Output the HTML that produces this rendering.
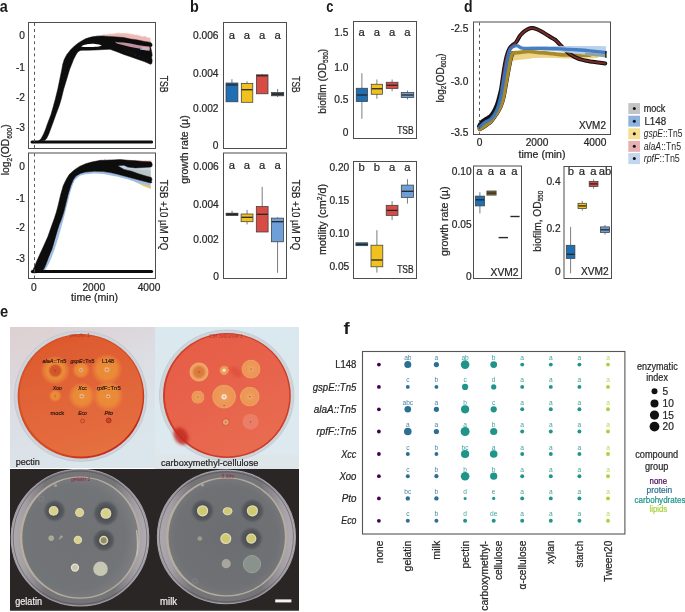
<!DOCTYPE html>
<html><head><meta charset="utf-8"><style>
html,body{margin:0;padding:0;background:#fff;width:685px;height:612px;overflow:hidden}
svg{display:block;will-change:transform}
text{font-family:"Liberation Sans", sans-serif}
</style></head><body>
<svg width="685" height="612" viewBox="0 0 685 612">
<rect width="685" height="612" fill="#fff"/>
<text x="-0.3" y="11.6" font-size="16.5" text-anchor="start" fill="#1a1a1a" font-weight="bold" textLength="8" lengthAdjust="spacingAndGlyphs" >a</text>
<text x="190" y="11.7" font-size="16.5" text-anchor="start" fill="#1a1a1a" font-weight="bold" textLength="8.8" lengthAdjust="spacingAndGlyphs" >b</text>
<text x="326.2" y="11.6" font-size="16.5" text-anchor="start" fill="#1a1a1a" font-weight="bold" textLength="7.2" lengthAdjust="spacingAndGlyphs" >c</text>
<text x="464" y="11.6" font-size="16.5" text-anchor="start" fill="#1a1a1a" font-weight="bold" textLength="8.6" lengthAdjust="spacingAndGlyphs" >d</text>
<text x="0.1" y="316.7" font-size="16.5" text-anchor="start" fill="#1a1a1a" font-weight="bold" textLength="8.2" lengthAdjust="spacingAndGlyphs" >e</text>
<text x="343.4" y="333.8" font-size="16.5" text-anchor="start" fill="#1a1a1a" font-weight="bold" textLength="6.2" lengthAdjust="spacingAndGlyphs" >f</text>
<path d="M100,36.07 L100.5,34.99 L101.1,35.8 L101.6,34.56 L102.2,35.62 L102.7,34.9 L103.3,34.84 L103.8,33.54 L104.4,34.75 L104.9,34.07 L105.5,35.2 L106,33.69 L106.6,35.01 L107.1,33.61 L107.7,34.8 L108.2,33.96 L108.8,34.72 L109.3,32.95 L109.9,34.57 L110.4,33.04 L111,34.55 L111.5,33.8 L112.1,34.49 L112.6,32.99 L113.2,34.04 L113.7,33.59 L114.3,34.31 L114.8,32.89 L115.4,34.08 L115.9,32.23 L116.5,33.95 L117,32.05 L117.6,33.65 L118.1,32.13 L118.7,33.65 L119.2,31.92 L119.8,33.91 L120.3,32.97 L120.9,33.35 L121.4,32.77 L122,33.89 L122.5,32.45 L123.1,33.72 L123.6,32.69 L124.2,33.75 L124.7,32.7 L125.3,33.76 L125.8,32.56 L126.4,34.05 L126.9,32.26 L127.5,34.24 L128,32.35 L128.6,34.48 L129.1,32.39 L129.7,34.47 L130.2,33.59 L130.8,34.74 L131.3,32.68 L131.9,34.98 L132.4,33.41 L133,35.05 L133.5,34.08 L134.1,35.34 L134.6,33.81 L135.2,35.17 L135.7,34.68 L136.3,35.77 L136.8,33.69 L137.4,35.44 L137.9,34.14 L138.5,35.88 L139,35.2 L139.6,36.01 L140.1,34.6 L140.7,36.62 L141.2,35.75 L141.8,36.65 L142.3,35.96 L142.9,36.94 L143.4,35.8 L144,37.26 L144.5,35.17 L145.1,37.24 L145.6,35.39 L146.2,37.37 L146.7,36.85 L147.3,37.83 L147.8,37.17 L148.4,37.81 L148.9,36.94 L149.5,38.36 L150,37.53 L150.5,38.5 L150.5,44 L140,42 L125,40 L110,38 L100,37.5 Z" fill="#eeb8b4" stroke="none" stroke-width="1" />
<path d="M88,38 L93,36.3 L99,35.5 L103,35.6 L100,37 L92,38.6 Z" fill="#9ec0e6" stroke="none" stroke-width="1" />
<path d="M32.5,142.6 L36,142 L39,140.8 L41.2,138.5 L43.5,134.2 L45.5,129.5 L47.2,124.6 L51,114.6 L53.3,106.5 L55.4,98.8 L57.8,89 L59.8,79.2 L61.8,69.4 L62.7,64.5 L64.2,59.6 L66.7,54.7 L70.6,49.8 L74.5,45.9 L78.4,42.9 L82.4,40.5 L86,38.6 L91.4,37 L97,36.2 L102.8,36.1 L108,36.4 L113,36.7 L116.9,36.9 L123.7,37.6 L130.6,39 L137.5,40 L144.3,41.4 L150.5,42.4 L151.8,43.5 L152.2,45.5 L151.5,46.6 L150.5,46.8 L151.5,51 L152.2,55 L151.6,57.5 L152.2,60.5 L151.8,63.5 L150.5,64.3 L144.3,61.6 L137.5,59.2 L130.6,56.8 L123.7,54.4 L116.9,51.7 L110,49.3 L105,49.4 L100,49.8 L95,50 L88,50.2 L82.4,50.3 L80.4,50.4 L77.9,51.8 L76,54.7 L73.5,59.6 L71.6,64.5 L69.6,69.4 L66.7,79.2 L63.7,89 L61.3,98.8 L59.3,105.5 L55.9,114.6 L52.3,124.5 L48.7,134.2 L46.6,138.5 L44.5,140.6 L40,141 L34,142.8 Z" fill="#0d0d0d" stroke="#0d0d0d" stroke-width="0.5" stroke-linejoin="round"/>
<path d="M81.2,46.6 C83.5,44.4 90,43.7 95,43.9 C98,44 100.5,44.6 101.8,45.5 C99,47 92,47.1 88,47.1 C85,47.1 82.5,47 81.2,46.6 Z" fill="#fff" stroke="none" stroke-width="1" />
<path d="M114.8,41.6 L117,42.2 L123.7,42.5 L130.6,43.5 L137.5,44.9 L144.3,45.9 L149.5,46.6 L149.5,50.6 L144.3,49.3 L137.5,48.2 L130.6,46.9 L123.7,45.2 L116.9,43.5 Z" fill="#c18f9f" stroke="none" stroke-width="1" />
<path d="M141,46.5 L149.5,47.2 L149.5,50.8 L142,49.6 Z" fill="#d9a9b4" stroke="none" stroke-width="1" />
<path d="M140,48.4 L147,49.6 L147,50.6 L140,49.4 Z" fill="#9fbfe3" stroke="none" stroke-width="1" />
<line x1="124" y1="49.8" x2="134" y2="53.2" stroke="#283845" stroke-width="0.5" stroke-dasharray="2,2.5" opacity="0.7"/>
<line x1="134" y1="54.8" x2="148" y2="59.3" stroke="#283845" stroke-width="0.5" stroke-dasharray="2,2.5" opacity="0.7"/>
<line x1="126" y1="51.6" x2="140" y2="56.2" stroke="#283845" stroke-width="0.5" stroke-dasharray="2,2.5" opacity="0.7"/>
<line x1="32" y1="142" x2="151.6" y2="142" stroke="#0d0d0d" stroke-width="3" stroke-linecap="round"/>
<path d="M117.9,166 L124,164.9 L127.8,167.1 L135.4,167.9 L143,167.5 L150.6,167.1 L150.8,178 L146.8,176.3 L139.2,174 L131.6,171.3 L124,169.4 Z" fill="#c3d2e6" stroke="none" stroke-width="1" />
<path d="M124,168.5 L135.4,169.5 L150.6,170.5 L150.8,178 L146.8,176.3 L139.2,174 L131.6,171.3 Z" fill="#b9c5c4" stroke="none" stroke-width="1" />
<path d="M127.8,177 L139.2,180.1 L150.6,182.7 L150.6,188.6 L144,186 L135,182 L128,179 Z" fill="#b6c2c0" stroke="none" stroke-width="1" />
<path d="M140,183.8 L150.6,186 L150.6,188.8 L142,185.6 Z" fill="#e6ca6a" stroke="none" stroke-width="1" />
<path d="M104,159.83 L104.5,158.56 L105.2,160.01 L105.7,158.47 L106.4,160.39 L106.9,159.19 L107.6,160.15 L108.1,159.05 L108.8,160.28 L109.3,158.98 L110,160.26 L110.5,158.98 L111.2,160.51 L111.7,159.14 L112.4,160.23 L112.9,158.9 L113.6,160.13 L114.1,159.43 L114.8,160.6 L115.3,159.19 L116,160.37 L116.5,159.83 L117.2,160.31 L117.7,159.17 L118.4,160.1 L118.9,159.15 L119.6,160.49 L120.1,159.84 L120.8,160.51 L121.3,159.38 L122,160.57 L122.5,159.54 L123.2,160.61 L123.7,159.1 L124.4,160.22 L124.9,159.94 L125.6,160.64 L126.1,158.88 L126.8,160.41 L127.3,159.51 L128,160.64 L128.5,159.7 L129.2,160.52 L129.7,159.73 L130.4,160.55 L130.9,159.41 L131.6,160.53 L132.1,159.7 L132.8,160.84 L133.3,160.14 L134,160.74 L134.5,159.32 L135.2,160.61 L135.7,159.96 L136.4,160.93 L136.9,159.96 L137.6,160.58 L138.1,159.75 L138.8,160.91 L139.3,160.17 L140,160.71 L140.5,159.92 L141.2,161.04 L141.7,159.82 L142.4,161.08 L142.9,160.16 L143.6,160.79 L144.1,159.61 L144.8,161.15 L145.3,159.87 L146,160.78 L146.5,160.29 L147.2,160.98 L147.7,160.24 L148.4,161.17 L148.9,159.48 L149.6,160.82 L150.1,160.18 L150.8,161.22 L151.3,159.77 L151.5,160 L151.5,165 L120,163 L104,163 Z" fill="#efc0bc" stroke="none" stroke-width="1" />
<path d="M37,266 C37.67,264.5 39.67,260 41,257 C42.33,254 43.67,251.17 45,248 C46.33,244.83 47.67,241.5 49,238 C50.33,234.5 51.67,231 53,227 C54.33,223 56.33,216.17 57,214" fill="none" stroke="#b4cdee" stroke-width="1.6" stroke-linecap="round"/>
<path d="M44,270 C44.75,268.67 47.08,265 48.5,262 C49.92,259 51.17,255.67 52.5,252 C53.83,248.33 55.17,244.33 56.5,240 C57.83,235.67 59.25,230.5 60.5,226 C61.75,221.5 63,216.83 64,213 C65,209.17 65.67,206.33 66.5,203 C67.33,199.67 68.17,196 69,193 C69.83,190 70.67,187.25 71.5,185 C72.33,182.75 73.08,180.92 74,179.5 C74.92,178.08 75.83,177.38 77,176.5 C78.17,175.62 79.5,174.75 81,174.2 C82.5,173.65 83.77,173.5 86,173.2 C88.23,172.9 91.57,172.47 94.4,172.4 C97.23,172.33 100.4,172.5 103,172.8 C105.6,173.1 107.67,173.75 110,174.2 C112.33,174.65 114.03,174.83 117,175.5 C119.97,176.17 124.13,177.22 127.8,178.2 C131.47,179.18 135.47,180.43 139,181.4 C142.53,182.37 147.33,183.57 149,184" fill="none" stroke="#9ec0e8" stroke-width="2.2" stroke-linecap="round"/>
<path d="M32.2,272.8 L33.2,269.5 L35,265.5 L36.7,261.3 L39.5,255 L42.3,249 L45,243 L47.8,236.8 L50,230.5 L52.1,224.5 L54.3,218.5 L56.3,212.3 L58,206 L59.4,200 L60.7,194.4 L62,190 L63.3,185.6 L65,182 L66.5,179 L69.4,174.3 L74.3,169.9 L79.5,166.4 L85.6,163.8 L91.8,162 L100.5,160.3 L105,160.3 L112,160 L120.2,159.6 L127.8,160.3 L135.4,160.7 L143,161.5 L150.6,161.8 L151.8,162.8 L152.3,164.8 L151.8,166.6 L150.6,167.1 L143,167.5 L135.4,167.9 L127.8,167.1 L124,165.2 L120,165.6 L117.9,166 L124,169.4 L131.6,171.3 L139.2,174 L146.8,176.3 L151.3,177.4 L152,179.5 L151.3,181.5 L152,182.5 L150.6,182.9 L139.2,180.1 L127.8,177 L116.4,174 L110,172.6 L103.2,171.6 L94.4,171.2 L85.6,172.1 L80.4,173.4 L76,176 L73.4,179.5 L70.8,185.6 L68.1,194.4 L65.5,204.9 L63.7,212.3 L61.5,219 L59.4,224.5 L57.5,230.5 L55.7,236.8 L53.9,243 L52.1,249 L49.6,255 L47.2,261.3 L45.5,265.5 L44.1,268.6 L42.5,270.5 L41,271.3 L36,272.9 Z" fill="#0d0d0d" stroke="#0d0d0d" stroke-width="0.5" stroke-linejoin="round"/>
<line x1="32.3" y1="271.5" x2="151.6" y2="271.5" stroke="#0d0d0d" stroke-width="3" stroke-linecap="round"/>
<rect x="28.5" y="22.5" width="127" height="126" fill="none" stroke="#4d4d4d" stroke-width="1" />
<rect x="28.5" y="153" width="127" height="125.5" fill="none" stroke="#4d4d4d" stroke-width="1" />
<line x1="34.5" y1="23" x2="34.5" y2="148" stroke="#555" stroke-width="1" stroke-dasharray="2.9,3.2"/>
<line x1="34.5" y1="153.5" x2="34.5" y2="278" stroke="#5a5a5a" stroke-width="1" stroke-dasharray="2.9,3.2"/>
<text x="25" y="39.39" font-size="10.4" text-anchor="end" fill="#262626" stroke="#262626" stroke-width="0.22" textLength="5.67" lengthAdjust="spacingAndGlyphs" >0</text>
<text x="25" y="71.14" font-size="10.4" text-anchor="end" fill="#262626" stroke="#262626" stroke-width="0.22" textLength="9.06" lengthAdjust="spacingAndGlyphs" >-1</text>
<text x="25" y="100.64" font-size="10.4" text-anchor="end" fill="#262626" stroke="#262626" stroke-width="0.22" textLength="9.06" lengthAdjust="spacingAndGlyphs" >-2</text>
<text x="25" y="131.14" font-size="10.4" text-anchor="end" fill="#262626" stroke="#262626" stroke-width="0.22" textLength="9.06" lengthAdjust="spacingAndGlyphs" >-3</text>
<text x="25" y="169.64" font-size="10.4" text-anchor="end" fill="#262626" stroke="#262626" stroke-width="0.22" textLength="5.67" lengthAdjust="spacingAndGlyphs" >0</text>
<text x="25" y="201.64" font-size="10.4" text-anchor="end" fill="#262626" stroke="#262626" stroke-width="0.22" textLength="9.06" lengthAdjust="spacingAndGlyphs" >-1</text>
<text x="25" y="231.14" font-size="10.4" text-anchor="end" fill="#262626" stroke="#262626" stroke-width="0.22" textLength="9.06" lengthAdjust="spacingAndGlyphs" >-2</text>
<text x="25" y="261.64" font-size="10.4" text-anchor="end" fill="#262626" stroke="#262626" stroke-width="0.22" textLength="9.06" lengthAdjust="spacingAndGlyphs" >-3</text>
<text x="33.75" y="290.64" font-size="10.4" text-anchor="middle" fill="#262626" stroke="#262626" stroke-width="0.22" textLength="5.67" lengthAdjust="spacingAndGlyphs" >0</text>
<text x="93.75" y="290.64" font-size="10.4" text-anchor="middle" fill="#262626" stroke="#262626" stroke-width="0.22" textLength="22.67" lengthAdjust="spacingAndGlyphs" >2000</text>
<text x="149" y="290.64" font-size="10.4" text-anchor="middle" fill="#262626" stroke="#262626" stroke-width="0.22" textLength="22.67" lengthAdjust="spacingAndGlyphs" >4000</text>
<text x="94.6" y="300.6" font-size="10.4" text-anchor="middle" fill="#262626" stroke="#262626" stroke-width="0.22" textLength="47" lengthAdjust="spacingAndGlyphs" >time (min)</text>
<text x="0" y="0" font-size="10.4" fill="#262626" stroke="#262626" stroke-width="0.22" text-anchor="middle" textLength="51" lengthAdjust="spacingAndGlyphs" transform="translate(9.3 149.8) rotate(-90)">log<tspan font-size="6.6" dy="2.2">2</tspan><tspan dy="-2.2">(OD</tspan><tspan font-size="6.6" dy="2.2">600</tspan><tspan dy="-2.2">)</tspan></text>
<text x="159.66" y="84.2" font-size="10.4" text-anchor="middle" fill="#262626" stroke="#262626" stroke-width="0.22" textLength="17" lengthAdjust="spacingAndGlyphs" transform="rotate(90 159.66 84.2)" >TSB</text>
<text x="159.66" y="215" font-size="10.4" text-anchor="middle" fill="#262626" stroke="#262626" stroke-width="0.22" textLength="70.5" lengthAdjust="spacingAndGlyphs" transform="rotate(90 159.66 215)" >TSB +10 µM PQ</text>
<rect x="223.5" y="22.5" width="63" height="126" fill="none" stroke="#4d4d4d" stroke-width="1" />
<rect x="223.5" y="153" width="63" height="125.5" fill="none" stroke="#4d4d4d" stroke-width="1" />
<text x="218.5" y="39.04" font-size="10.4" text-anchor="end" fill="#262626" stroke="#262626" stroke-width="0.22" textLength="25.5" lengthAdjust="spacingAndGlyphs" >0.006</text>
<text x="218.5" y="76.64" font-size="10.4" text-anchor="end" fill="#262626" stroke="#262626" stroke-width="0.22" textLength="25.5" lengthAdjust="spacingAndGlyphs" >0.004</text>
<text x="218.5" y="112.39" font-size="10.4" text-anchor="end" fill="#262626" stroke="#262626" stroke-width="0.22" textLength="25.5" lengthAdjust="spacingAndGlyphs" >0.002</text>
<text x="218.5" y="148.64" font-size="10.4" text-anchor="end" fill="#262626" stroke="#262626" stroke-width="0.22" textLength="5.67" lengthAdjust="spacingAndGlyphs" >0</text>
<text x="218.8" y="169.89" font-size="10.4" text-anchor="end" fill="#262626" stroke="#262626" stroke-width="0.22" textLength="25.5" lengthAdjust="spacingAndGlyphs" >0.006</text>
<text x="218.8" y="207.89" font-size="10.4" text-anchor="end" fill="#262626" stroke="#262626" stroke-width="0.22" textLength="25.5" lengthAdjust="spacingAndGlyphs" >0.004</text>
<text x="218.8" y="242.89" font-size="10.4" text-anchor="end" fill="#262626" stroke="#262626" stroke-width="0.22" textLength="25.5" lengthAdjust="spacingAndGlyphs" >0.002</text>
<text x="218.8" y="279.54" font-size="10.4" text-anchor="end" fill="#262626" stroke="#262626" stroke-width="0.22" textLength="5.67" lengthAdjust="spacingAndGlyphs" >0</text>
<text x="232" y="38.9" font-size="11.5" text-anchor="middle" fill="#262626" stroke="#262626" stroke-width="0.22" textLength="6.27" lengthAdjust="spacingAndGlyphs" >a</text>
<text x="232" y="169.4" font-size="11.5" text-anchor="middle" fill="#262626" stroke="#262626" stroke-width="0.22" textLength="6.27" lengthAdjust="spacingAndGlyphs" >a</text>
<text x="247" y="38.9" font-size="11.5" text-anchor="middle" fill="#262626" stroke="#262626" stroke-width="0.22" textLength="6.27" lengthAdjust="spacingAndGlyphs" >a</text>
<text x="247" y="169.4" font-size="11.5" text-anchor="middle" fill="#262626" stroke="#262626" stroke-width="0.22" textLength="6.27" lengthAdjust="spacingAndGlyphs" >a</text>
<text x="262.2" y="38.9" font-size="11.5" text-anchor="middle" fill="#262626" stroke="#262626" stroke-width="0.22" textLength="6.27" lengthAdjust="spacingAndGlyphs" >a</text>
<text x="262.2" y="169.4" font-size="11.5" text-anchor="middle" fill="#262626" stroke="#262626" stroke-width="0.22" textLength="6.27" lengthAdjust="spacingAndGlyphs" >a</text>
<text x="277.6" y="38.9" font-size="11.5" text-anchor="middle" fill="#262626" stroke="#262626" stroke-width="0.22" textLength="6.27" lengthAdjust="spacingAndGlyphs" >a</text>
<text x="277.6" y="169.4" font-size="11.5" text-anchor="middle" fill="#262626" stroke="#262626" stroke-width="0.22" textLength="6.27" lengthAdjust="spacingAndGlyphs" >a</text>
<line x1="231.95" y1="79.2" x2="231.95" y2="83" stroke="#5a5a5a" stroke-width="0.8" />
<rect x="226" y="83" width="11.9" height="18.8" fill="#1f6fb5" stroke="#3d3d3d" stroke-width="0.75" />
<line x1="226.3" y1="84.9" x2="237.6" y2="84.9" stroke="#262626" stroke-width="1.3" />
<line x1="247.05" y1="81.4" x2="247.05" y2="83.5" stroke="#5a5a5a" stroke-width="0.8" />
<rect x="241.3" y="83.5" width="11.5" height="18.8" fill="#f1c21e" stroke="#3d3d3d" stroke-width="0.75" />
<line x1="241.6" y1="89.7" x2="252.5" y2="89.7" stroke="#262626" stroke-width="1.3" />
<line x1="262.2" y1="73.9" x2="262.2" y2="74.8" stroke="#5a5a5a" stroke-width="0.8" />
<rect x="256.4" y="74.8" width="11.6" height="19" fill="#d84c46" stroke="#3d3d3d" stroke-width="0.75" />
<line x1="256.7" y1="75.8" x2="267.7" y2="75.8" stroke="#262626" stroke-width="1.3" />
<line x1="277.65" y1="89" x2="277.65" y2="92.6" stroke="#5a5a5a" stroke-width="0.8" />
<line x1="277.65" y1="95.8" x2="277.65" y2="97" stroke="#5a5a5a" stroke-width="0.8" />
<rect x="271.6" y="92.6" width="12.1" height="3.2" fill="#3b4a5c" stroke="#3d3d3d" stroke-width="0.75" />
<line x1="271.9" y1="94.1" x2="283.4" y2="94.1" stroke="#262626" stroke-width="1.3" />
<line x1="232.05" y1="210.7" x2="232.05" y2="213.2" stroke="#5a5a5a" stroke-width="0.8" />
<rect x="226.1" y="213.2" width="11.9" height="2.3" fill="#333" stroke="#3d3d3d" stroke-width="0.75" />
<line x1="226.4" y1="214.3" x2="237.7" y2="214.3" stroke="#262626" stroke-width="1.3" />
<line x1="247.05" y1="209.9" x2="247.05" y2="214" stroke="#5a5a5a" stroke-width="0.8" />
<line x1="247.05" y1="221.7" x2="247.05" y2="224.4" stroke="#5a5a5a" stroke-width="0.8" />
<rect x="241.1" y="214" width="11.9" height="7.7" fill="#f1c21e" stroke="#3d3d3d" stroke-width="0.75" />
<line x1="241.4" y1="217.3" x2="252.7" y2="217.3" stroke="#262626" stroke-width="1.3" />
<line x1="262.2" y1="186.9" x2="262.2" y2="206.5" stroke="#5a5a5a" stroke-width="0.8" />
<rect x="256.3" y="206.5" width="11.8" height="25.5" fill="#d84c46" stroke="#3d3d3d" stroke-width="0.75" />
<line x1="256.6" y1="214.3" x2="267.8" y2="214.3" stroke="#262626" stroke-width="1.3" />
<line x1="277.55" y1="217.3" x2="277.55" y2="218.1" stroke="#5a5a5a" stroke-width="0.8" />
<line x1="277.55" y1="241.8" x2="277.55" y2="272.8" stroke="#5a5a5a" stroke-width="0.8" />
<rect x="271.5" y="218.1" width="12.1" height="23.7" fill="#6e9fd8" stroke="#3d3d3d" stroke-width="0.75" />
<line x1="271.8" y1="221.7" x2="283.3" y2="221.7" stroke="#262626" stroke-width="1.3" />
<text x="291.66" y="84.5" font-size="10.4" text-anchor="middle" fill="#262626" stroke="#262626" stroke-width="0.22" textLength="16.3" lengthAdjust="spacingAndGlyphs" transform="rotate(90 291.66 84.5)" >TSB</text>
<text x="291.66" y="215" font-size="10.4" text-anchor="middle" fill="#262626" stroke="#262626" stroke-width="0.22" textLength="70.5" lengthAdjust="spacingAndGlyphs" transform="rotate(90 291.66 215)" >TSB +10 µM PQ</text>
<text x="187.64" y="149.6" font-size="10.4" text-anchor="middle" fill="#262626" stroke="#262626" stroke-width="0.22" textLength="68.5" lengthAdjust="spacingAndGlyphs" transform="rotate(-90 187.64 149.6)" >growth rate (µ)</text>
<rect x="353.5" y="21.5" width="63" height="117" fill="none" stroke="#4d4d4d" stroke-width="1" />
<rect x="353.5" y="161.5" width="63" height="117" fill="none" stroke="#4d4d4d" stroke-width="1" />
<text x="348.5" y="36.14" font-size="10.4" text-anchor="end" fill="#262626" stroke="#262626" stroke-width="0.22" textLength="14.17" lengthAdjust="spacingAndGlyphs" >1.5</text>
<text x="348.5" y="70.64" font-size="10.4" text-anchor="end" fill="#262626" stroke="#262626" stroke-width="0.22" textLength="14.17" lengthAdjust="spacingAndGlyphs" >1.0</text>
<text x="348.5" y="103.14" font-size="10.4" text-anchor="end" fill="#262626" stroke="#262626" stroke-width="0.22" textLength="14.17" lengthAdjust="spacingAndGlyphs" >0.5</text>
<text x="348.5" y="136.14" font-size="10.4" text-anchor="end" fill="#262626" stroke="#262626" stroke-width="0.22" textLength="5.67" lengthAdjust="spacingAndGlyphs" >0</text>
<text x="349.25" y="171.14" font-size="10.4" text-anchor="end" fill="#262626" stroke="#262626" stroke-width="0.22" textLength="19.83" lengthAdjust="spacingAndGlyphs" >0.20</text>
<text x="349.25" y="204.39" font-size="10.4" text-anchor="end" fill="#262626" stroke="#262626" stroke-width="0.22" textLength="19.83" lengthAdjust="spacingAndGlyphs" >0.15</text>
<text x="349.25" y="236.89" font-size="10.4" text-anchor="end" fill="#262626" stroke="#262626" stroke-width="0.22" textLength="19.83" lengthAdjust="spacingAndGlyphs" >0.10</text>
<text x="349.25" y="269.89" font-size="10.4" text-anchor="end" fill="#262626" stroke="#262626" stroke-width="0.22" textLength="19.83" lengthAdjust="spacingAndGlyphs" >0.05</text>
<text x="361.6" y="35.9" font-size="11.5" text-anchor="middle" fill="#262626" stroke="#262626" stroke-width="0.22" textLength="6.27" lengthAdjust="spacingAndGlyphs" >a</text>
<text x="376.9" y="35.9" font-size="11.5" text-anchor="middle" fill="#262626" stroke="#262626" stroke-width="0.22" textLength="6.27" lengthAdjust="spacingAndGlyphs" >a</text>
<text x="392.1" y="35.9" font-size="11.5" text-anchor="middle" fill="#262626" stroke="#262626" stroke-width="0.22" textLength="6.27" lengthAdjust="spacingAndGlyphs" >a</text>
<text x="407.5" y="35.9" font-size="11.5" text-anchor="middle" fill="#262626" stroke="#262626" stroke-width="0.22" textLength="6.27" lengthAdjust="spacingAndGlyphs" >a</text>
<text x="361.6" y="171.3" font-size="11.5" text-anchor="middle" fill="#262626" stroke="#262626" stroke-width="0.22" textLength="6.27" lengthAdjust="spacingAndGlyphs" >b</text>
<text x="376.9" y="171.3" font-size="11.5" text-anchor="middle" fill="#262626" stroke="#262626" stroke-width="0.22" textLength="6.27" lengthAdjust="spacingAndGlyphs" >b</text>
<text x="392.1" y="171.3" font-size="11.5" text-anchor="middle" fill="#262626" stroke="#262626" stroke-width="0.22" textLength="6.27" lengthAdjust="spacingAndGlyphs" >a</text>
<text x="407.5" y="171.3" font-size="11.5" text-anchor="middle" fill="#262626" stroke="#262626" stroke-width="0.22" textLength="6.27" lengthAdjust="spacingAndGlyphs" >a</text>
<line x1="361.88" y1="73.25" x2="361.88" y2="88.25" stroke="#5a5a5a" stroke-width="0.8" />
<line x1="361.88" y1="101.5" x2="361.88" y2="118.75" stroke="#5a5a5a" stroke-width="0.8" />
<rect x="356.25" y="88.25" width="11.25" height="13.25" fill="#1f6fb5" stroke="#3d3d3d" stroke-width="0.75" />
<line x1="356.55" y1="95" x2="367.2" y2="95" stroke="#262626" stroke-width="1.3" />
<line x1="376.88" y1="79.5" x2="376.88" y2="84.25" stroke="#5a5a5a" stroke-width="0.8" />
<line x1="376.88" y1="94.25" x2="376.88" y2="98.75" stroke="#5a5a5a" stroke-width="0.8" />
<rect x="371.25" y="84.25" width="11.25" height="10" fill="#f1c21e" stroke="#3d3d3d" stroke-width="0.75" />
<line x1="371.55" y1="88.75" x2="382.2" y2="88.75" stroke="#262626" stroke-width="1.3" />
<line x1="392.12" y1="79.5" x2="392.12" y2="82.25" stroke="#5a5a5a" stroke-width="0.8" />
<line x1="392.12" y1="88.5" x2="392.12" y2="91.25" stroke="#5a5a5a" stroke-width="0.8" />
<rect x="386.25" y="82.25" width="11.75" height="6.25" fill="#d84c46" stroke="#3d3d3d" stroke-width="0.75" />
<line x1="386.55" y1="85.25" x2="397.7" y2="85.25" stroke="#262626" stroke-width="1.3" />
<line x1="407.5" y1="90.5" x2="407.5" y2="92.5" stroke="#5a5a5a" stroke-width="0.8" />
<line x1="407.5" y1="97.5" x2="407.5" y2="99.5" stroke="#5a5a5a" stroke-width="0.8" />
<rect x="401.25" y="92.5" width="12.5" height="5" fill="#6e9fd8" stroke="#3d3d3d" stroke-width="0.75" />
<line x1="401.55" y1="95" x2="413.45" y2="95" stroke="#262626" stroke-width="1.3" />
<rect x="355.9" y="242.8" width="11.8" height="2.9" fill="#1f6fb5" stroke="#3d3d3d" stroke-width="0.75" />
<line x1="356.2" y1="244.4" x2="367.4" y2="244.4" stroke="#262626" stroke-width="1.3" />
<line x1="376.9" y1="230.2" x2="376.9" y2="245.2" stroke="#5a5a5a" stroke-width="0.8" />
<line x1="376.9" y1="266.8" x2="376.9" y2="272.6" stroke="#5a5a5a" stroke-width="0.8" />
<rect x="371" y="245.2" width="11.8" height="21.6" fill="#f1c21e" stroke="#3d3d3d" stroke-width="0.75" />
<line x1="371.3" y1="260" x2="382.5" y2="260" stroke="#262626" stroke-width="1.3" />
<line x1="392.1" y1="201.1" x2="392.1" y2="205.3" stroke="#5a5a5a" stroke-width="0.8" />
<line x1="392.1" y1="215.4" x2="392.1" y2="220.1" stroke="#5a5a5a" stroke-width="0.8" />
<rect x="386.2" y="205.3" width="11.8" height="10.1" fill="#d84c46" stroke="#3d3d3d" stroke-width="0.75" />
<line x1="386.5" y1="210.4" x2="397.7" y2="210.4" stroke="#262626" stroke-width="1.3" />
<line x1="407.45" y1="179.2" x2="407.45" y2="185.1" stroke="#5a5a5a" stroke-width="0.8" />
<line x1="407.45" y1="197.4" x2="407.45" y2="203.6" stroke="#5a5a5a" stroke-width="0.8" />
<rect x="401.3" y="185.1" width="12.3" height="12.3" fill="#6e9fd8" stroke="#3d3d3d" stroke-width="0.75" />
<line x1="401.6" y1="191.3" x2="413.3" y2="191.3" stroke="#262626" stroke-width="1.3" />
<text x="405.4" y="133.64" font-size="10.4" text-anchor="middle" fill="#262626" stroke="#262626" stroke-width="0.22" textLength="16.5" lengthAdjust="spacingAndGlyphs" >TSB</text>
<text x="405.4" y="272.84" font-size="10.4" text-anchor="middle" fill="#262626" stroke="#262626" stroke-width="0.22" textLength="16.5" lengthAdjust="spacingAndGlyphs" >TSB</text>
<text x="0" y="0" font-size="10.4" fill="#262626" stroke="#262626" stroke-width="0.22" text-anchor="middle" textLength="65" lengthAdjust="spacingAndGlyphs" transform="translate(325.6 81.25) rotate(-90)">biofilm (OD<tspan font-size="6.6" dy="2.2">550</tspan><tspan dy="-2.2">)</tspan></text>
<text x="0" y="0" font-size="10.4" fill="#262626" stroke="#262626" stroke-width="0.22" text-anchor="middle" textLength="71" lengthAdjust="spacingAndGlyphs" transform="translate(325.6 219.4) rotate(-90)">motility (cm<tspan font-size="6.6" dy="-3.2">2</tspan><tspan dy="3.2">/d)</tspan></text>
<rect x="473.5" y="166" width="48" height="112.5" fill="none" stroke="#4d4d4d" stroke-width="1" />
<rect x="564" y="166.5" width="47.5" height="112" fill="none" stroke="#4d4d4d" stroke-width="1" />
<text x="471.6" y="174.84" font-size="10.4" text-anchor="end" fill="#262626" stroke="#262626" stroke-width="0.22" textLength="19.83" lengthAdjust="spacingAndGlyphs" >0.10</text>
<text x="471.6" y="227.94" font-size="10.4" text-anchor="end" fill="#262626" stroke="#262626" stroke-width="0.22" textLength="19.83" lengthAdjust="spacingAndGlyphs" >0.05</text>
<text x="471.6" y="279.54" font-size="10.4" text-anchor="end" fill="#262626" stroke="#262626" stroke-width="0.22" textLength="5.67" lengthAdjust="spacingAndGlyphs" >0</text>
<text x="560.6" y="185.04" font-size="10.4" text-anchor="end" fill="#262626" stroke="#262626" stroke-width="0.22" textLength="14.17" lengthAdjust="spacingAndGlyphs" >0.4</text>
<text x="560.6" y="232.04" font-size="10.4" text-anchor="end" fill="#262626" stroke="#262626" stroke-width="0.22" textLength="14.17" lengthAdjust="spacingAndGlyphs" >0.2</text>
<text x="560.6" y="275.44" font-size="10.4" text-anchor="end" fill="#262626" stroke="#262626" stroke-width="0.22" textLength="5.67" lengthAdjust="spacingAndGlyphs" >0</text>
<text x="479.4" y="175.3" font-size="11.5" text-anchor="middle" fill="#262626" stroke="#262626" stroke-width="0.22" textLength="6.27" lengthAdjust="spacingAndGlyphs" >a</text>
<text x="491" y="175.3" font-size="11.5" text-anchor="middle" fill="#262626" stroke="#262626" stroke-width="0.22" textLength="6.27" lengthAdjust="spacingAndGlyphs" >a</text>
<text x="502.7" y="175.3" font-size="11.5" text-anchor="middle" fill="#262626" stroke="#262626" stroke-width="0.22" textLength="6.27" lengthAdjust="spacingAndGlyphs" >a</text>
<text x="514.5" y="175.3" font-size="11.5" text-anchor="middle" fill="#262626" stroke="#262626" stroke-width="0.22" textLength="6.27" lengthAdjust="spacingAndGlyphs" >a</text>
<text x="570.8" y="175.2" font-size="11.5" text-anchor="middle" fill="#262626" stroke="#262626" stroke-width="0.22" textLength="6.27" lengthAdjust="spacingAndGlyphs" >b</text>
<text x="582" y="175.2" font-size="11.5" text-anchor="middle" fill="#262626" stroke="#262626" stroke-width="0.22" textLength="6.27" lengthAdjust="spacingAndGlyphs" >a</text>
<text x="593.3" y="175.2" font-size="11.5" text-anchor="middle" fill="#262626" stroke="#262626" stroke-width="0.22" textLength="6.27" lengthAdjust="spacingAndGlyphs" >a</text>
<text x="605" y="175.2" font-size="11.5" text-anchor="middle" fill="#262626" stroke="#262626" stroke-width="0.22" textLength="12.53" lengthAdjust="spacingAndGlyphs" >ab</text>
<line x1="479.9" y1="192.2" x2="479.9" y2="196.1" stroke="#5a5a5a" stroke-width="0.8" />
<line x1="479.9" y1="205.9" x2="479.9" y2="213.5" stroke="#5a5a5a" stroke-width="0.8" />
<rect x="475.3" y="196.1" width="9.2" height="9.8" fill="#1f6fb5" stroke="#3d3d3d" stroke-width="0.75" />
<line x1="475.6" y1="199.8" x2="484.2" y2="199.8" stroke="#262626" stroke-width="1.3" />
<rect x="486.9" y="191" width="9.2" height="4.1" fill="#8a7630" stroke="#333" stroke-width="0.75" />
<line x1="487.2" y1="193.1" x2="495.8" y2="193.1" stroke="#262626" stroke-width="1.3" />
<line x1="498.6" y1="237.6" x2="508" y2="237.6" stroke="#2a2a2a" stroke-width="1.4" />
<line x1="510.4" y1="216.5" x2="519.6" y2="216.5" stroke="#2a2a2a" stroke-width="1.4" />
<line x1="570.6" y1="226.9" x2="570.6" y2="245.3" stroke="#5a5a5a" stroke-width="0.8" />
<line x1="570.6" y1="258.4" x2="570.6" y2="273.3" stroke="#5a5a5a" stroke-width="0.8" />
<rect x="566.3" y="245.3" width="8.6" height="13.1" fill="#1f6fb5" stroke="#3d3d3d" stroke-width="0.75" />
<line x1="566.6" y1="254.3" x2="574.6" y2="254.3" stroke="#262626" stroke-width="1.3" />
<line x1="582.25" y1="200.8" x2="582.25" y2="203.3" stroke="#5a5a5a" stroke-width="0.8" />
<line x1="582.25" y1="208.6" x2="582.25" y2="210.6" stroke="#5a5a5a" stroke-width="0.8" />
<rect x="578" y="203.3" width="8.5" height="5.3" fill="#f1c21e" stroke="#3d3d3d" stroke-width="0.75" />
<line x1="578.3" y1="205.9" x2="586.2" y2="205.9" stroke="#262626" stroke-width="1.3" />
<line x1="593.6" y1="179.4" x2="593.6" y2="181.4" stroke="#5a5a5a" stroke-width="0.8" />
<line x1="593.6" y1="186.5" x2="593.6" y2="188.6" stroke="#5a5a5a" stroke-width="0.8" />
<rect x="589.2" y="181.4" width="8.8" height="5.1" fill="#d84c46" stroke="#3d3d3d" stroke-width="0.75" />
<line x1="589.5" y1="183.9" x2="597.7" y2="183.9" stroke="#262626" stroke-width="1.3" />
<line x1="605" y1="224.9" x2="605" y2="226.9" stroke="#5a5a5a" stroke-width="0.8" />
<line x1="605" y1="232.4" x2="605" y2="234.5" stroke="#5a5a5a" stroke-width="0.8" />
<rect x="600.4" y="226.9" width="9.2" height="5.5" fill="#6e9fd8" stroke="#3d3d3d" stroke-width="0.75" />
<line x1="600.7" y1="229.8" x2="609.3" y2="229.8" stroke="#262626" stroke-width="1.3" />
<text x="504.6" y="275.84" font-size="10.4" text-anchor="middle" fill="#262626" stroke="#262626" stroke-width="0.22" textLength="28" lengthAdjust="spacingAndGlyphs" >XVM2</text>
<text x="594.8" y="275.44" font-size="10.4" text-anchor="middle" fill="#262626" stroke="#262626" stroke-width="0.22" textLength="27.6" lengthAdjust="spacingAndGlyphs" >XVM2</text>
<text x="447.74" y="221.2" font-size="10.4" text-anchor="middle" fill="#262626" stroke="#262626" stroke-width="0.22" textLength="69.4" lengthAdjust="spacingAndGlyphs" transform="rotate(-90 447.74 221.2)" >growth rate (µ)</text>
<text x="0" y="0" font-size="10.4" fill="#262626" stroke="#262626" stroke-width="0.22" text-anchor="middle" textLength="61" lengthAdjust="spacingAndGlyphs" transform="translate(540.8 221.2) rotate(-90)">biofilm, OD<tspan font-size="6.6" dy="2.2">550</tspan></text>
<path d="M511,54 L514,53.5 L520,53.2 L527.8,52.6 L534,53 L545,54.2 L555,55 L566,55.5 L578,55.8 L590,55.6 L598,55.2 L598,58 L590,58.4 L578,58.6 L566,58.4 L555,58 L545,57.8 L534,58 L527.8,59 L520,59.8 L514,60.4 L510.5,61.5 Z" fill="#ecd488" stroke="none" stroke-width="1" />
<path d="M479.8,129 C480.33,128.7 481.92,127.87 483,127.2 C484.08,126.53 484.93,126.05 486.3,125 C487.67,123.95 489.58,122.68 491.2,120.9 C492.82,119.12 494.48,116.62 496,114.3 C497.52,111.98 499.07,109.85 500.3,107 C501.53,104.15 502.52,100.87 503.4,97.2 C504.28,93.53 504.9,88.87 505.6,85 C506.3,81.13 506.95,77.5 507.6,74 C508.25,70.5 508.93,66.83 509.5,64 C510.07,61.17 510.5,58.73 511,57 C511.5,55.27 512.25,54.17 512.5,53.6" fill="none" stroke="#111" stroke-width="4.4" stroke-linecap="round" stroke-linejoin="round"/>
<path d="M479.8,129 C480.33,128.7 481.92,127.87 483,127.2 C484.08,126.53 484.93,126.05 486.3,125 C487.67,123.95 489.58,122.68 491.2,120.9 C492.82,119.12 494.48,116.62 496,114.3 C497.52,111.98 499.07,109.85 500.3,107 C501.53,104.15 502.52,100.87 503.4,97.2 C504.28,93.53 504.9,88.87 505.6,85 C506.3,81.13 506.95,77.5 507.6,74 C508.25,70.5 508.93,66.83 509.5,64 C510.07,61.17 510.5,58.73 511,57 C511.5,55.27 511.92,54.3 512.5,53.6 C513.08,52.9 513.82,52.95 514.5,52.8 C515.18,52.65 515.52,52.8 516.6,52.7 C517.68,52.6 519.13,52.42 521,52.2 C522.87,51.98 525.63,51.47 527.8,51.4 C529.97,51.33 531.78,51.6 534,51.8 C536.22,52 538.93,52.37 541.1,52.6 C543.27,52.83 545.02,53.02 547,53.2 C548.98,53.38 550.83,53.48 553,53.7 C555.17,53.92 557.83,54.32 560,54.5 C562.17,54.68 564,54.72 566,54.8 C568,54.88 570,54.93 572,55 C574,55.07 576,55.17 578,55.2 C580,55.23 582,55.23 584,55.2 C586,55.17 589,55.03 590,55" fill="none" stroke="#a88a2c" stroke-width="3.8" stroke-linecap="round" stroke-linejoin="round"/>
<path d="M479,126.2 C479.42,125.53 480.42,123.37 481.5,122.2 C482.58,121.03 484.25,120.03 485.5,119.2 C486.75,118.37 488.02,117.9 489,117.2 C489.98,116.5 490.53,116.08 491.4,115 C492.27,113.92 493.27,112.45 494.2,110.7 C495.13,108.95 496.15,106.87 497,104.5 C497.85,102.13 498.62,99.08 499.3,96.5 C499.98,93.92 500.5,92.25 501.1,89 C501.7,85.75 502.32,80.83 502.9,77 C503.48,73.17 503.97,69.5 504.6,66 C505.23,62.5 505.88,58.92 506.7,56 C507.52,53.08 508.45,50.37 509.5,48.5 C510.55,46.63 511.92,45.82 513,44.8 C514.08,43.78 514.9,43.82 516,42.4 C517.1,40.98 518.6,37.78 519.6,36.3 C520.6,34.82 521.15,34.35 522,33.5 C522.85,32.65 523.7,31.92 524.7,31.2 C525.7,30.48 526.8,29.72 528,29.2 C529.2,28.68 530.57,28.17 531.9,28.1 C533.23,28.03 534.47,28.28 536,28.8 C537.53,29.32 539.6,30.4 541.1,31.2 C542.6,32 543.65,32.75 545,33.6 C546.35,34.45 547.87,35.47 549.2,36.3 C550.53,37.13 551.97,38 553,38.6 C554.03,39.2 554.4,39.07 555.4,39.9 C556.4,40.73 557.65,42.22 559,43.6 C560.35,44.98 561.98,46.7 563.5,48.2 C565.02,49.7 566.6,51.33 568.1,52.6 C569.6,53.87 571,54.88 572.5,55.8 C574,56.72 575.6,57.45 577.1,58.1 C578.6,58.75 579.98,59.25 581.5,59.7 C583.02,60.15 584.7,60.5 586.2,60.8 C587.7,61.1 589,61.28 590.5,61.5 C592,61.72 593.62,61.88 595.2,62.1 C596.78,62.32 598.33,62.57 600,62.8 C601.67,63.03 604.33,63.38 605.2,63.5" fill="none" stroke="#111" stroke-width="4" stroke-linecap="round" stroke-linejoin="round"/>
<path d="M501.1,89 C501.4,87 502.32,80.83 502.9,77 C503.48,73.17 503.97,69.5 504.6,66 C505.23,62.5 505.88,58.92 506.7,56 C507.52,53.08 508.45,50.37 509.5,48.5 C510.55,46.63 511.92,45.82 513,44.8 C514.08,43.78 514.9,43.82 516,42.4 C517.1,40.98 518.6,37.78 519.6,36.3 C520.6,34.82 521.15,34.35 522,33.5 C522.85,32.65 523.7,31.92 524.7,31.2 C525.7,30.48 526.8,29.72 528,29.2 C529.2,28.68 530.57,28.17 531.9,28.1 C533.23,28.03 534.47,28.28 536,28.8 C537.53,29.32 539.6,30.4 541.1,31.2 C542.6,32 543.65,32.75 545,33.6 C546.35,34.45 547.87,35.47 549.2,36.3 C550.53,37.13 551.97,38 553,38.6 C554.03,39.2 554.4,39.07 555.4,39.9 C556.4,40.73 557.65,42.22 559,43.6 C560.35,44.98 561.98,46.7 563.5,48.2 C565.02,49.7 566.6,51.33 568.1,52.6 C569.6,53.87 571,54.88 572.5,55.8 C574,56.72 575.6,57.45 577.1,58.1 C578.6,58.75 579.98,59.25 581.5,59.7 C583.02,60.15 584.7,60.5 586.2,60.8 C587.7,61.1 589,61.28 590.5,61.5 C592,61.72 593.62,61.88 595.2,62.1 C596.78,62.32 598.33,62.57 600,62.8 C601.67,63.03 604.33,63.38 605.2,63.5" fill="none" stroke="#7c2a27" stroke-width="1.9" stroke-linecap="round" stroke-linejoin="round"/>
<path d="M530,46.6 L545,46.2 L560,46 L580,45.9 L596,46 L606,46.2 L606,57.5 L596,56.4 L580,54.2 L560,51.6 L545,50.4 L530,50 Z" fill="#b3cceb" stroke="none" stroke-width="1" opacity="0.9"/>
<path d="M585,52.5 L600,53.5 L606,54 L606,57.2 L596,56.3 L585,55.2 Z" fill="#8f9f92" stroke="none" stroke-width="1" opacity="0.9"/>
<path d="M479.5,127.2 C480,126.7 481.37,125.15 482.5,124.2 C483.63,123.25 484.97,122.33 486.3,121.5 C487.63,120.67 489.22,120.28 490.5,119.2 C491.78,118.12 492.83,116.82 494,115 C495.17,113.18 496.47,110.97 497.5,108.3 C498.53,105.63 499.4,102.38 500.2,99 C501,95.62 501.63,91.67 502.3,88 C502.97,84.33 503.57,80.67 504.2,77 C504.83,73.33 505.5,69.33 506.1,66 C506.7,62.67 507.25,59.5 507.8,57 C508.35,54.5 508.83,52.47 509.4,51 C509.97,49.53 510.52,48.93 511.2,48.2 C511.88,47.47 512.6,47.03 513.5,46.6 C514.4,46.17 515.77,45.65 516.6,45.6 C517.43,45.55 517.83,45.97 518.5,46.3 C519.17,46.63 519.68,47.27 520.6,47.6 C521.52,47.93 522.43,48.18 524,48.3 C525.57,48.42 527.33,48.28 530,48.3 C532.67,48.32 536.67,48.35 540,48.4 C543.33,48.45 546.67,48.52 550,48.6 C553.33,48.68 556.67,48.77 560,48.9 C563.33,49.03 566.67,49.22 570,49.4 C573.33,49.58 576.67,49.77 580,50 C583.33,50.23 586.67,50.5 590,50.8 C593.33,51.1 597.5,51.53 600,51.8 C602.5,52.07 604.17,52.3 605,52.4" fill="none" stroke="#3b77bf" stroke-width="3.3" stroke-linecap="round" stroke-linejoin="round" opacity="0.93"/>
<line x1="605.9" y1="51.5" x2="605.9" y2="57.3" stroke="#111" stroke-width="1.3" />
<line x1="605.3" y1="51.5" x2="606.6" y2="51.5" stroke="#111" stroke-width="0.8" />
<line x1="605.3" y1="57.3" x2="606.6" y2="57.3" stroke="#111" stroke-width="0.8" />
<rect x="473.5" y="22" width="137" height="112.5" fill="none" stroke="#4d4d4d" stroke-width="1" />
<line x1="479.5" y1="22.5" x2="479.5" y2="134" stroke="#555" stroke-width="1" stroke-dasharray="2.9,3.2"/>
<text x="468.3" y="31.89" font-size="10.4" text-anchor="end" fill="#262626" stroke="#262626" stroke-width="0.22" textLength="17.56" lengthAdjust="spacingAndGlyphs" >-2.5</text>
<text x="468.3" y="84.89" font-size="10.4" text-anchor="end" fill="#262626" stroke="#262626" stroke-width="0.22" textLength="17.56" lengthAdjust="spacingAndGlyphs" >-3.0</text>
<text x="468.3" y="136.14" font-size="10.4" text-anchor="end" fill="#262626" stroke="#262626" stroke-width="0.22" textLength="17.56" lengthAdjust="spacingAndGlyphs" >-3.5</text>
<text x="479.5" y="145.84" font-size="10.4" text-anchor="middle" fill="#262626" stroke="#262626" stroke-width="0.22" textLength="5.67" lengthAdjust="spacingAndGlyphs" >0</text>
<text x="537" y="145.84" font-size="10.4" text-anchor="middle" fill="#262626" stroke="#262626" stroke-width="0.22" textLength="22.67" lengthAdjust="spacingAndGlyphs" >2000</text>
<text x="595" y="145.84" font-size="10.4" text-anchor="middle" fill="#262626" stroke="#262626" stroke-width="0.22" textLength="22.67" lengthAdjust="spacingAndGlyphs" >4000</text>
<text x="542" y="157.8" font-size="10.4" text-anchor="middle" fill="#262626" stroke="#262626" stroke-width="0.22" textLength="47" lengthAdjust="spacingAndGlyphs" >time (min)</text>
<text x="592.4" y="128.64" font-size="10.4" text-anchor="middle" fill="#262626" stroke="#262626" stroke-width="0.22" textLength="27" lengthAdjust="spacingAndGlyphs" >XVM2</text>
<text x="0" y="0" font-size="10.4" fill="#262626" stroke="#262626" stroke-width="0.22" text-anchor="middle" textLength="49" lengthAdjust="spacingAndGlyphs" transform="translate(444.2 78) rotate(-90)">log<tspan font-size="6.6" dy="2.2">2</tspan><tspan dy="-2.2">(OD</tspan><tspan font-size="6.6" dy="2.2">600</tspan><tspan dy="-2.2">)</tspan></text>
<rect x="628.3" y="103.1" width="11.7" height="10.9" fill="#c4c4c4" stroke="none" stroke-width="1" />
<circle cx="634.3" cy="108.55" r="1.5" fill="#111" stroke="none" stroke-width="1" />
<rect x="628.3" y="115.7" width="11.7" height="10.9" fill="#8db4de" stroke="none" stroke-width="1" />
<circle cx="634.3" cy="121.15" r="1.5" fill="#111" stroke="none" stroke-width="1" />
<rect x="628.3" y="128.3" width="11.7" height="10.9" fill="#f6de90" stroke="none" stroke-width="1" />
<circle cx="634.3" cy="133.75" r="1.5" fill="#111" stroke="none" stroke-width="1" />
<rect x="628.3" y="140.9" width="11.7" height="10.9" fill="#e8b0b0" stroke="none" stroke-width="1" />
<circle cx="634.3" cy="146.35" r="1.5" fill="#111" stroke="none" stroke-width="1" />
<rect x="628.3" y="153.1" width="11.7" height="11" fill="#c4d6ee" stroke="none" stroke-width="1" />
<circle cx="634.3" cy="158.6" r="1.5" fill="#111" stroke="none" stroke-width="1" />
<text x="643.7" y="111.85" font-size="10.4" text-anchor="start" fill="#262626" stroke="#262626" stroke-width="0.22" textLength="21.7" lengthAdjust="spacingAndGlyphs" >mock</text>
<text x="644.4" y="124.99" font-size="11.4" text-anchor="start" fill="#262626" stroke="#262626" stroke-width="0.22" textLength="21.7" lengthAdjust="spacingAndGlyphs" >L148</text>
<text x="643.7" y="137.1" font-size="10.4" fill="#262626" textLength="38.7" lengthAdjust="spacingAndGlyphs"><tspan font-style="italic">gspE</tspan>::Tn5</text>
<text x="643.7" y="149.6" font-size="10.4" fill="#262626" textLength="37.3" lengthAdjust="spacingAndGlyphs"><tspan font-style="italic">alaA</tspan>::Tn5</text>
<text x="643.7" y="162.2" font-size="10.4" fill="#262626" textLength="36.1" lengthAdjust="spacingAndGlyphs"><tspan font-style="italic">rpfF</tspan>::Tn5</text>
<defs>
<linearGradient id="bgP" x1="0" y1="0" x2="0.45" y2="1"><stop offset="0" stop-color="#ddd0d1"/><stop offset="0.3" stop-color="#dcd6da"/><stop offset="0.5" stop-color="#dcdde3"/><stop offset="1" stop-color="#dae6ec"/></linearGradient>
<linearGradient id="edgeP" x1="0" y1="0" x2="1" y2="1"><stop offset="0" stop-color="#d85428"/><stop offset="0.6" stop-color="#d24a22"/><stop offset="0.85" stop-color="#c0281c"/><stop offset="1" stop-color="#b8201a"/></linearGradient>
<linearGradient id="bgC" x1="0" y1="0" x2="0" y2="1"><stop offset="0" stop-color="#dae9ef"/><stop offset="1" stop-color="#dde9ee"/></linearGradient>
<linearGradient id="agP" x1="0.3" y1="0" x2="0.6" y2="1"><stop offset="0" stop-color="#dd582c"/><stop offset="0.35" stop-color="#e06236"/><stop offset="0.7" stop-color="#e3693c"/><stop offset="1" stop-color="#e5703f"/></linearGradient>
<linearGradient id="agC" x1="0.2" y1="0" x2="0.8" y2="1"><stop offset="0" stop-color="#e65c46"/><stop offset="0.5" stop-color="#e8644c"/><stop offset="1" stop-color="#e86c50"/></linearGradient>
<radialGradient id="haloP"><stop offset="0" stop-color="#ea8c3a"/><stop offset="0.6" stop-color="#ea8a38"/><stop offset="0.85" stop-color="#e87c3a" stop-opacity="0.6"/><stop offset="1" stop-color="#e56e3c" stop-opacity="0"/></radialGradient>
<radialGradient id="darkP"><stop offset="0" stop-color="#cc5228"/><stop offset="0.7" stop-color="#d45a2c"/><stop offset="1" stop-color="#de7034" stop-opacity="0"/></radialGradient>
<radialGradient id="spotP"><stop offset="0" stop-color="#f2c098"/><stop offset="0.6" stop-color="#efae78" stop-opacity="0.8"/><stop offset="1" stop-color="#eb9a50" stop-opacity="0"/></radialGradient>
<radialGradient id="haloC"><stop offset="0" stop-color="#f0aa72"/><stop offset="0.35" stop-color="#ed9a5a"/><stop offset="0.8" stop-color="#ec9654"/><stop offset="0.92" stop-color="#eea060"/><stop offset="1" stop-color="#ea7c56" stop-opacity="0.2"/></radialGradient>
<radialGradient id="ringC"><stop offset="0" stop-color="#d8763a"/><stop offset="0.5" stop-color="#dc7e40"/><stop offset="0.68" stop-color="#ec9c5c"/><stop offset="0.9" stop-color="#f0aa6c"/><stop offset="1" stop-color="#ea8058" stop-opacity="0.2"/></radialGradient>
<linearGradient id="rimG" x1="0" y1="0" x2="1" y2="0"><stop offset="0" stop-color="#aeaab0"/><stop offset="0.1" stop-color="#a29ea4"/><stop offset="0.25" stop-color="#757478"/><stop offset="0.75" stop-color="#757478"/><stop offset="0.9" stop-color="#a29ea4"/><stop offset="1" stop-color="#b2aeb4"/></linearGradient>
<radialGradient id="agG" cx="0.45" cy="0.5" r="0.55"><stop offset="0" stop-color="#6f7174"/><stop offset="0.8" stop-color="#727477"/><stop offset="1" stop-color="#7c7e81"/></radialGradient>
<radialGradient id="agM" cx="0.5" cy="0.5" r="0.55"><stop offset="0" stop-color="#6b6d70"/><stop offset="0.8" stop-color="#6f7174"/><stop offset="1" stop-color="#7a7c7e"/></radialGradient>
<radialGradient id="dhalo"><stop offset="0" stop-color="#4c4f53"/><stop offset="0.5" stop-color="#4e5155"/><stop offset="0.75" stop-color="#55585c" stop-opacity="0.85"/><stop offset="1" stop-color="#6e7073" stop-opacity="0"/></radialGradient>
<radialGradient id="ycol"><stop offset="0" stop-color="#d6ce88"/><stop offset="0.75" stop-color="#dad290"/><stop offset="0.9" stop-color="#e2dcb0"/><stop offset="1" stop-color="#e8e4c4"/></radialGradient>
<radialGradient id="ycolM"><stop offset="0" stop-color="#cec870"/><stop offset="0.7" stop-color="#d0ca72"/><stop offset="0.86" stop-color="#dedab0"/><stop offset="1" stop-color="#e6e4cc"/></radialGradient>
<filter id="soft" x="-5%" y="-5%" width="110%" height="110%"><feGaussianBlur stdDeviation="0.45"/></filter>
<filter id="blur1" x="-50%" y="-50%" width="200%" height="200%"><feGaussianBlur stdDeviation="1.6"/></filter>
<clipPath id="clipP"><rect x="10" y="327" width="145" height="141"/></clipPath>
<clipPath id="clipC"><rect x="155" y="327" width="144" height="142"/></clipPath>
<clipPath id="clipB"><rect x="10" y="469" width="289" height="141.7"/></clipPath>
</defs>
<g clip-path="url(#clipP)"><g filter="url(#soft)">
<rect x="10" y="327" width="145" height="141" fill="url(#bgP)" stroke="none" stroke-width="1" />
<ellipse cx="80.6" cy="396.2" rx="66.3" ry="65.2" fill="#cfd4db" stroke="#bfc4cb" stroke-width="0.8"/>
<ellipse cx="80.9" cy="396.3" rx="63.3" ry="62.3" fill="url(#edgeP)"/>
<ellipse cx="81.2" cy="395.9" rx="61.6" ry="60.6" fill="url(#agP)"/>
<circle cx="55.3" cy="370.4" r="15" fill="url(#haloP)" stroke="none" stroke-width="1" />
<circle cx="81" cy="370" r="9" fill="url(#haloP)" stroke="none" stroke-width="1" />
<circle cx="106.8" cy="369.4" r="16" fill="url(#haloP)" stroke="none" stroke-width="1" />
<circle cx="55.2" cy="395.8" r="6.5" fill="url(#haloP)" stroke="none" stroke-width="1" />
<circle cx="81.8" cy="396" r="14" fill="url(#haloP)" stroke="none" stroke-width="1" />
<circle cx="108.2" cy="396" r="16" fill="url(#haloP)" stroke="none" stroke-width="1" />
<circle cx="55.3" cy="370.6" r="7.4" fill="url(#darkP)" stroke="none" stroke-width="1" />
<circle cx="81" cy="370" r="3" fill="url(#spotP)" stroke="none" stroke-width="1" />
<circle cx="106.9" cy="369.6" r="3.6" fill="url(#spotP)" stroke="none" stroke-width="1" />
<circle cx="81.8" cy="396.2" r="3.4" fill="url(#spotP)" stroke="none" stroke-width="1" />
<circle cx="108.2" cy="396.2" r="3" fill="url(#spotP)" stroke="none" stroke-width="1" />
<circle cx="55.3" cy="370.7" r="0.6" fill="#8a3a20" stroke="none" stroke-width="1" />
<circle cx="81" cy="370.1" r="0.6" fill="#8a3a20" stroke="none" stroke-width="1" />
<circle cx="106.9" cy="369.7" r="0.6" fill="#8a3a20" stroke="none" stroke-width="1" />
<circle cx="81.8" cy="396.3" r="0.6" fill="#8a3a20" stroke="none" stroke-width="1" />
<circle cx="108.2" cy="396.3" r="0.6" fill="#8a3a20" stroke="none" stroke-width="1" />
<circle cx="55.2" cy="396" r="0.6" fill="#8a3a20" stroke="none" stroke-width="1" />
<circle cx="82.6" cy="421" r="1.9" fill="none" stroke="#b83a22" stroke-width="0.9" />
<circle cx="108.7" cy="420.4" r="2.4" fill="#c84a2c" stroke="#a02a1c" stroke-width="0.9" />
</g>
<text x="54.4" y="362.5" font-size="6.2" fill="#2a1810" stroke="#2a1810" stroke-width="0.2" text-anchor="middle" textLength="24" lengthAdjust="spacingAndGlyphs"><tspan font-style="italic">alaA</tspan>::Tn5</text>
<text x="82.4" y="362.5" font-size="6.2" fill="#2a1810" stroke="#2a1810" stroke-width="0.2" text-anchor="middle" textLength="24" lengthAdjust="spacingAndGlyphs"><tspan font-style="italic">gspE</tspan>::Tn5</text>
<text x="108" y="362.5" font-size="6.2" text-anchor="middle" fill="#2a1810" stroke="#2a1810" stroke-width="0.22" textLength="12" lengthAdjust="spacingAndGlyphs" >L148</text>
<text x="57.3" y="390.3" font-size="6.2" text-anchor="middle" fill="#2a1810" stroke="#2a1810" stroke-width="0.22" font-style="italic" textLength="9" lengthAdjust="spacingAndGlyphs" >Xoo</text>
<text x="82.5" y="390.3" font-size="6.2" text-anchor="middle" fill="#2a1810" stroke="#2a1810" stroke-width="0.22" font-style="italic" textLength="8.5" lengthAdjust="spacingAndGlyphs" >Xcc</text>
<text x="108.7" y="390.3" font-size="6.2" fill="#2a1810" stroke="#2a1810" stroke-width="0.2" text-anchor="middle" textLength="24" lengthAdjust="spacingAndGlyphs"><tspan font-style="italic">rpfF</tspan>::Tn5</text>
<text x="57.3" y="415" font-size="6.2" text-anchor="middle" fill="#2a1810" stroke="#2a1810" stroke-width="0.22" textLength="13.5" lengthAdjust="spacingAndGlyphs" >mock</text>
<text x="82.5" y="415" font-size="6.2" text-anchor="middle" fill="#2a1810" stroke="#2a1810" stroke-width="0.22" font-style="italic" textLength="8.5" lengthAdjust="spacingAndGlyphs" >Eco</text>
<text x="108.7" y="415" font-size="6.2" text-anchor="middle" fill="#2a1810" stroke="#2a1810" stroke-width="0.22" font-style="italic" textLength="8.5" lengthAdjust="spacingAndGlyphs" >Pto</text>
<text x="80" y="337.4" font-size="5.2" text-anchor="middle" fill="#a82424" font-style="italic" textLength="20" lengthAdjust="spacingAndGlyphs" opacity="0.7">pectin 1</text>
<text x="15.7" y="465.3" font-size="9.7" text-anchor="start" fill="#231f20" stroke="#231f20" stroke-width="0.22" textLength="24.2" lengthAdjust="spacingAndGlyphs" >pectin</text>
</g>
<g clip-path="url(#clipC)"><g filter="url(#soft)">
<rect x="155" y="327" width="144" height="142" fill="url(#bgC)" stroke="none" stroke-width="1" />
<rect x="155" y="455" width="144" height="14" fill="#dfe6e9" stroke="none" stroke-width="1" />
<ellipse cx="226.7" cy="395.4" rx="67.2" ry="65.4" fill="#ced5da" stroke="#c0c8cd" stroke-width="0.8"/>
<ellipse cx="226.9" cy="395.5" rx="63.9" ry="62.6" fill="#cc3c2a"/>
<ellipse cx="227.1" cy="395.3" rx="62.2" ry="61.1" fill="url(#agC)"/>
<ellipse cx="181" cy="436" rx="6.8" ry="9.2" fill="#c42c22" opacity="0.85" filter="url(#blur1)" transform="rotate(-30 181 436)"/>
<ellipse cx="236" cy="372" rx="7" ry="4" fill="#de4c3c" opacity="0.7" filter="url(#blur1)" transform="rotate(40 236 372)"/>
<circle cx="199" cy="372" r="10" fill="url(#ringC)" stroke="none" stroke-width="1" />
<circle cx="224.1" cy="370.3" r="4.8" fill="url(#haloC)" stroke="none" stroke-width="1" />
<circle cx="251" cy="369.1" r="9.8" fill="url(#haloC)" stroke="none" stroke-width="1" />
<circle cx="197.9" cy="397.1" r="6.8" fill="url(#haloC)" stroke="none" stroke-width="1" />
<circle cx="224.1" cy="396.6" r="12.3" fill="url(#haloC)" stroke="none" stroke-width="1" />
<circle cx="249.8" cy="396.6" r="10.2" fill="url(#haloC)" stroke="none" stroke-width="1" />
<circle cx="250.6" cy="421.7" r="8" fill="#f09a86" stroke="none" stroke-width="1" opacity="0.45"/>
<circle cx="225.8" cy="422.1" r="3.4" fill="#eea070" stroke="#c05030" stroke-width="0.7" />
<circle cx="224.1" cy="396.8" r="2.6" fill="#f6e2d0" stroke="none" stroke-width="1" />
<circle cx="224.1" cy="370.3" r="1.8" fill="#f6dcc4" stroke="none" stroke-width="1" />
<circle cx="199" cy="372" r="0.55" fill="#7a3018" stroke="none" stroke-width="1" />
<circle cx="251" cy="369.1" r="0.55" fill="#7a3018" stroke="none" stroke-width="1" />
<circle cx="197.9" cy="397.1" r="0.55" fill="#7a3018" stroke="none" stroke-width="1" />
<circle cx="224.1" cy="396.8" r="0.55" fill="#7a3018" stroke="none" stroke-width="1" />
<circle cx="249.8" cy="396.6" r="0.55" fill="#7a3018" stroke="none" stroke-width="1" />
<circle cx="225.8" cy="422.1" r="0.55" fill="#7a3018" stroke="none" stroke-width="1" />
<circle cx="250.6" cy="421.7" r="0.55" fill="#7a3018" stroke="none" stroke-width="1" />
<circle cx="224.1" cy="405.5" r="0.55" fill="#7a3018" stroke="none" stroke-width="1" />
</g>
<text x="226" y="338" font-size="5.2" text-anchor="middle" fill="#a82424" font-style="italic" textLength="34" lengthAdjust="spacingAndGlyphs" opacity="0.7">CM cellulose 1</text>
<text x="160.9" y="466.4" font-size="9.7" text-anchor="start" fill="#231f20" stroke="#231f20" stroke-width="0.22" textLength="97.4" lengthAdjust="spacingAndGlyphs" >carboxymethyl-cellulose</text>
</g>
<g clip-path="url(#clipB)"><g filter="url(#soft)">
<rect x="10" y="469" width="289" height="142" fill="#2a2628" stroke="none" stroke-width="1" />
<ellipse cx="80" cy="537.6" rx="68.8" ry="68.4" fill="url(#rimG)" stroke="#a4a2a8" stroke-width="1.1"/>
<ellipse cx="80" cy="537.6" rx="66.8" ry="66.60000000000001" fill="none" stroke="#46444a" stroke-width="0.7" opacity="0.7"/>
<ellipse cx="80" cy="537.6" rx="60.199999999999996" ry="61.2" fill="#b6ad9f"/>
<ellipse cx="80.3" cy="537.6" rx="58.0" ry="60.00000000000001" fill="url(#agG)"/>
<ellipse cx="226.4" cy="536.9" rx="69" ry="66.8" fill="url(#rimG)" stroke="#a4a2a8" stroke-width="1.1"/>
<ellipse cx="226.4" cy="536.9" rx="67" ry="65.0" fill="none" stroke="#46444a" stroke-width="0.7" opacity="0.7"/>
<ellipse cx="226.4" cy="536.9" rx="60.4" ry="59.599999999999994" fill="#b6ad9f"/>
<ellipse cx="226.70000000000002" cy="536.9" rx="58.2" ry="58.4" fill="url(#agM)"/>
<circle cx="54.6" cy="510.8" r="12" fill="url(#dhalo)" stroke="none" stroke-width="1" />
<circle cx="105.8" cy="513.2" r="13.8" fill="url(#dhalo)" stroke="none" stroke-width="1" />
<circle cx="103.9" cy="540.3" r="12.2" fill="url(#dhalo)" stroke="none" stroke-width="1" />
<circle cx="53.6" cy="510.9" r="4.9" fill="url(#ycol)" stroke="none" stroke-width="1" />
<circle cx="79.6" cy="512.6" r="4.5" fill="url(#ycol)" stroke="none" stroke-width="1" />
<circle cx="105.9" cy="513.4" r="5.4" fill="url(#ycol)" stroke="none" stroke-width="1" />
<circle cx="77.9" cy="539.9" r="4.2" fill="url(#ycol)" stroke="none" stroke-width="1" />
<circle cx="103.7" cy="540.4" r="3.8" fill="#8e8c78" stroke="#e2dca4" stroke-width="1.5" />
<circle cx="51.2" cy="538.2" r="2.4" fill="#a8a890" stroke="#c8c4a8" stroke-width="0.6" />
<circle cx="61.4" cy="536.7" r="1.3" fill="#a8a898" stroke="none" stroke-width="1" />
<circle cx="59.8" cy="538.5" r="0.9" fill="#a8a898" stroke="none" stroke-width="1" />
<circle cx="75" cy="567.6" r="3.5" fill="#c8c6b0" stroke="#e6e4d4" stroke-width="1.3" />
<circle cx="100.5" cy="568.8" r="7.3" fill="#c6c8b4" stroke="none" stroke-width="1" />
<circle cx="41.3" cy="498.7" r="2.5" fill="none" stroke="#8a8c8e" stroke-width="0.6" />
<path d="M137.2,530 C138.6,538 138.8,546 137.6,556 L136.2,556 C137.2,546 137,538 135.8,530 Z" fill="#c4c0bc" opacity="0.85"/>
<circle cx="55.5" cy="485.5" r="1.6" fill="#9a9c9e" stroke="none" stroke-width="1" />
<circle cx="202.5" cy="485" r="1.6" fill="#a0a2a4" stroke="none" stroke-width="1" />
<circle cx="195" cy="581" r="2.4" fill="none" stroke="#8a8c8e" stroke-width="0.6" />
<circle cx="202.6" cy="510.8" r="12.6" fill="url(#dhalo)" stroke="none" stroke-width="1" />
<circle cx="252.4" cy="510.8" r="13" fill="url(#dhalo)" stroke="none" stroke-width="1" />
<circle cx="251.3" cy="538.6" r="12.6" fill="url(#dhalo)" stroke="none" stroke-width="1" />
<circle cx="202.6" cy="510.8" r="5.6" fill="url(#ycolM)" stroke="none" stroke-width="1" />
<circle cx="252.4" cy="510.8" r="5.6" fill="url(#ycolM)" stroke="none" stroke-width="1" />
<circle cx="251.3" cy="538.6" r="5.1" fill="url(#ycolM)" stroke="none" stroke-width="1" />
<circle cx="225.8" cy="538.6" r="5.5" fill="url(#ycolM)" stroke="none" stroke-width="1" />
<ellipse cx="227.6" cy="511.2" rx="4.8" ry="4" fill="url(#ycolM)"/>
<circle cx="199.8" cy="538.6" r="2.4" fill="#9a9a86" stroke="none" stroke-width="1" />
<circle cx="226.2" cy="563.7" r="4.6" fill="#a8a69c" stroke="none" stroke-width="1" />
<circle cx="252" cy="564.1" r="8.6" fill="#8a928c" stroke="#9aa29c" stroke-width="1" />
</g>
<text x="80.8" y="481" font-size="5.4" text-anchor="middle" fill="#9a2230" font-style="italic" textLength="19" lengthAdjust="spacingAndGlyphs" >gelatin 1</text>
<text x="228" y="478" font-size="5.4" text-anchor="middle" fill="#9a2230" font-style="italic" textLength="13" lengthAdjust="spacingAndGlyphs" >5 Xlim</text>
<text x="15.2" y="604.6" font-size="10" text-anchor="start" fill="#ececec" stroke="#ececec" stroke-width="0.22" textLength="26.8" lengthAdjust="spacingAndGlyphs" >gelatin</text>
<text x="160.1" y="604.6" font-size="10" text-anchor="start" fill="#ececec" stroke="#ececec" stroke-width="0.22" textLength="17" lengthAdjust="spacingAndGlyphs" >milk</text>
<rect x="275.2" y="599.4" width="16.2" height="3" fill="#f4f4f4" stroke="none" stroke-width="1" />
</g>
<circle cx="378.9" cy="364.6" r="1.9" fill="#440154" stroke="none" stroke-width="1" />
<circle cx="407.8" cy="364.6" r="3.5" fill="#2b6f92" stroke="none" stroke-width="1" />
<text x="407.8" y="360.1" font-size="6.6" text-anchor="middle" fill="#2b6f92" opacity="0.85">ab</text>
<circle cx="436.4" cy="364.6" r="2.6" fill="#2b6f92" stroke="none" stroke-width="1" />
<text x="436.4" y="360.1" font-size="6.6" text-anchor="middle" fill="#2b6f92" opacity="0.85">a</text>
<circle cx="465.1" cy="364.6" r="4.3" fill="#1f948a" stroke="none" stroke-width="1" />
<text x="465.1" y="360.1" font-size="6.6" text-anchor="middle" fill="#1f948a" opacity="0.85">ab</text>
<circle cx="493.7" cy="364.6" r="3.4" fill="#1f948a" stroke="none" stroke-width="1" />
<text x="493.7" y="360.1" font-size="6.6" text-anchor="middle" fill="#1f948a" opacity="0.85">b</text>
<circle cx="522.2" cy="364.6" r="1.95" fill="#1f948a" stroke="none" stroke-width="1" />
<text x="522.2" y="360.1" font-size="6.6" text-anchor="middle" fill="#1f948a" opacity="0.85">a</text>
<circle cx="550.8" cy="364.6" r="1.95" fill="#1f948a" stroke="none" stroke-width="1" />
<text x="550.8" y="360.1" font-size="6.6" text-anchor="middle" fill="#1f948a" opacity="0.85">a</text>
<circle cx="579.4" cy="364.6" r="1.95" fill="#1f948a" stroke="none" stroke-width="1" />
<text x="579.4" y="360.1" font-size="6.6" text-anchor="middle" fill="#1f948a" opacity="0.85">a</text>
<circle cx="608" cy="364.6" r="1.95" fill="#a8d23c" stroke="none" stroke-width="1" />
<text x="608" y="360.1" font-size="6.6" text-anchor="middle" fill="#a8d23c" opacity="0.85">a</text>
<circle cx="378.9" cy="386.9" r="1.9" fill="#440154" stroke="none" stroke-width="1" />
<circle cx="407.8" cy="386.9" r="1.9" fill="#2b6f92" stroke="none" stroke-width="1" />
<text x="407.8" y="382.4" font-size="6.6" text-anchor="middle" fill="#2b6f92" opacity="0.85">c</text>
<circle cx="436.4" cy="386.9" r="1.9" fill="#2b6f92" stroke="none" stroke-width="1" />
<text x="436.4" y="382.4" font-size="6.6" text-anchor="middle" fill="#2b6f92" opacity="0.85">b</text>
<circle cx="465.1" cy="386.9" r="3.1" fill="#1f948a" stroke="none" stroke-width="1" />
<text x="465.1" y="382.4" font-size="6.6" text-anchor="middle" fill="#1f948a" opacity="0.85">c</text>
<circle cx="493.7" cy="386.9" r="2.6" fill="#1f948a" stroke="none" stroke-width="1" />
<text x="493.7" y="382.4" font-size="6.6" text-anchor="middle" fill="#1f948a" opacity="0.85">d</text>
<circle cx="522.2" cy="386.9" r="1.95" fill="#1f948a" stroke="none" stroke-width="1" />
<text x="522.2" y="382.4" font-size="6.6" text-anchor="middle" fill="#1f948a" opacity="0.85">a</text>
<circle cx="550.8" cy="386.9" r="1.95" fill="#1f948a" stroke="none" stroke-width="1" />
<text x="550.8" y="382.4" font-size="6.6" text-anchor="middle" fill="#1f948a" opacity="0.85">a</text>
<circle cx="579.4" cy="386.9" r="1.95" fill="#1f948a" stroke="none" stroke-width="1" />
<text x="579.4" y="382.4" font-size="6.6" text-anchor="middle" fill="#1f948a" opacity="0.85">a</text>
<circle cx="608" cy="386.9" r="1.95" fill="#a8d23c" stroke="none" stroke-width="1" />
<text x="608" y="382.4" font-size="6.6" text-anchor="middle" fill="#a8d23c" opacity="0.85">a</text>
<circle cx="378.9" cy="409.3" r="1.9" fill="#440154" stroke="none" stroke-width="1" />
<circle cx="407.8" cy="409.3" r="3.3" fill="#2b6f92" stroke="none" stroke-width="1" />
<text x="407.8" y="404.8" font-size="6.6" text-anchor="middle" fill="#2b6f92" opacity="0.85">abc</text>
<circle cx="436.4" cy="409.3" r="2.6" fill="#2b6f92" stroke="none" stroke-width="1" />
<text x="436.4" y="404.8" font-size="6.6" text-anchor="middle" fill="#2b6f92" opacity="0.85">a</text>
<circle cx="465.1" cy="409.3" r="4.1" fill="#1f948a" stroke="none" stroke-width="1" />
<text x="465.1" y="404.8" font-size="6.6" text-anchor="middle" fill="#1f948a" opacity="0.85">b</text>
<circle cx="493.7" cy="409.3" r="3.1" fill="#1f948a" stroke="none" stroke-width="1" />
<text x="493.7" y="404.8" font-size="6.6" text-anchor="middle" fill="#1f948a" opacity="0.85">c</text>
<circle cx="522.2" cy="409.3" r="1.95" fill="#1f948a" stroke="none" stroke-width="1" />
<text x="522.2" y="404.8" font-size="6.6" text-anchor="middle" fill="#1f948a" opacity="0.85">a</text>
<circle cx="550.8" cy="409.3" r="1.95" fill="#1f948a" stroke="none" stroke-width="1" />
<text x="550.8" y="404.8" font-size="6.6" text-anchor="middle" fill="#1f948a" opacity="0.85">a</text>
<circle cx="579.4" cy="409.3" r="1.95" fill="#1f948a" stroke="none" stroke-width="1" />
<text x="579.4" y="404.8" font-size="6.6" text-anchor="middle" fill="#1f948a" opacity="0.85">a</text>
<circle cx="608" cy="409.3" r="1.95" fill="#a8d23c" stroke="none" stroke-width="1" />
<text x="608" y="404.8" font-size="6.6" text-anchor="middle" fill="#a8d23c" opacity="0.85">a</text>
<circle cx="378.9" cy="431.5" r="1.9" fill="#440154" stroke="none" stroke-width="1" />
<circle cx="407.8" cy="431.5" r="3.8" fill="#2b6f92" stroke="none" stroke-width="1" />
<text x="407.8" y="427" font-size="6.6" text-anchor="middle" fill="#2b6f92" opacity="0.85">a</text>
<circle cx="436.4" cy="431.5" r="2.6" fill="#2b6f92" stroke="none" stroke-width="1" />
<text x="436.4" y="427" font-size="6.6" text-anchor="middle" fill="#2b6f92" opacity="0.85">a</text>
<circle cx="465.1" cy="431.5" r="4.5" fill="#1f948a" stroke="none" stroke-width="1" />
<text x="465.1" y="427" font-size="6.6" text-anchor="middle" fill="#1f948a" opacity="0.85">a</text>
<circle cx="493.7" cy="431.5" r="3.6" fill="#1f948a" stroke="none" stroke-width="1" />
<text x="493.7" y="427" font-size="6.6" text-anchor="middle" fill="#1f948a" opacity="0.85">b</text>
<circle cx="522.2" cy="431.5" r="1.95" fill="#1f948a" stroke="none" stroke-width="1" />
<text x="522.2" y="427" font-size="6.6" text-anchor="middle" fill="#1f948a" opacity="0.85">a</text>
<circle cx="550.8" cy="431.5" r="1.95" fill="#1f948a" stroke="none" stroke-width="1" />
<text x="550.8" y="427" font-size="6.6" text-anchor="middle" fill="#1f948a" opacity="0.85">a</text>
<circle cx="579.4" cy="431.5" r="1.95" fill="#1f948a" stroke="none" stroke-width="1" />
<text x="579.4" y="427" font-size="6.6" text-anchor="middle" fill="#1f948a" opacity="0.85">a</text>
<circle cx="608" cy="431.5" r="1.95" fill="#a8d23c" stroke="none" stroke-width="1" />
<text x="608" y="427" font-size="6.6" text-anchor="middle" fill="#a8d23c" opacity="0.85">a</text>
<circle cx="378.9" cy="454" r="1.9" fill="#440154" stroke="none" stroke-width="1" />
<circle cx="407.8" cy="454" r="2" fill="#2b6f92" stroke="none" stroke-width="1" />
<text x="407.8" y="449.5" font-size="6.6" text-anchor="middle" fill="#2b6f92" opacity="0.85">c</text>
<circle cx="436.4" cy="454" r="1.9" fill="#2b6f92" stroke="none" stroke-width="1" />
<text x="436.4" y="449.5" font-size="6.6" text-anchor="middle" fill="#2b6f92" opacity="0.85">b</text>
<circle cx="465.1" cy="454" r="4.1" fill="#1f948a" stroke="none" stroke-width="1" />
<text x="465.1" y="449.5" font-size="6.6" text-anchor="middle" fill="#1f948a" opacity="0.85">bc</text>
<circle cx="493.7" cy="454" r="3.8" fill="#1f948a" stroke="none" stroke-width="1" />
<text x="493.7" y="449.5" font-size="6.6" text-anchor="middle" fill="#1f948a" opacity="0.85">a</text>
<circle cx="522.2" cy="454" r="1.95" fill="#1f948a" stroke="none" stroke-width="1" />
<text x="522.2" y="449.5" font-size="6.6" text-anchor="middle" fill="#1f948a" opacity="0.85">a</text>
<circle cx="550.8" cy="454" r="1.95" fill="#1f948a" stroke="none" stroke-width="1" />
<text x="550.8" y="449.5" font-size="6.6" text-anchor="middle" fill="#1f948a" opacity="0.85">a</text>
<circle cx="579.4" cy="454" r="1.95" fill="#1f948a" stroke="none" stroke-width="1" />
<text x="579.4" y="449.5" font-size="6.6" text-anchor="middle" fill="#1f948a" opacity="0.85">a</text>
<circle cx="608" cy="454" r="1.95" fill="#a8d23c" stroke="none" stroke-width="1" />
<text x="608" y="449.5" font-size="6.6" text-anchor="middle" fill="#a8d23c" opacity="0.85">a</text>
<circle cx="378.9" cy="476.2" r="1.9" fill="#440154" stroke="none" stroke-width="1" />
<circle cx="407.8" cy="476.2" r="2" fill="#2b6f92" stroke="none" stroke-width="1" />
<text x="407.8" y="471.7" font-size="6.6" text-anchor="middle" fill="#2b6f92" opacity="0.85">c</text>
<circle cx="436.4" cy="476.2" r="2.1" fill="#2b6f92" stroke="none" stroke-width="1" />
<text x="436.4" y="471.7" font-size="6.6" text-anchor="middle" fill="#2b6f92" opacity="0.85">b</text>
<circle cx="465.1" cy="476.2" r="4.3" fill="#1f948a" stroke="none" stroke-width="1" />
<text x="465.1" y="471.7" font-size="6.6" text-anchor="middle" fill="#1f948a" opacity="0.85">b</text>
<circle cx="493.7" cy="476.2" r="3.6" fill="#1f948a" stroke="none" stroke-width="1" />
<text x="493.7" y="471.7" font-size="6.6" text-anchor="middle" fill="#1f948a" opacity="0.85">b</text>
<circle cx="522.2" cy="476.2" r="1.95" fill="#1f948a" stroke="none" stroke-width="1" />
<text x="522.2" y="471.7" font-size="6.6" text-anchor="middle" fill="#1f948a" opacity="0.85">a</text>
<circle cx="550.8" cy="476.2" r="1.95" fill="#1f948a" stroke="none" stroke-width="1" />
<text x="550.8" y="471.7" font-size="6.6" text-anchor="middle" fill="#1f948a" opacity="0.85">a</text>
<circle cx="579.4" cy="476.2" r="1.95" fill="#1f948a" stroke="none" stroke-width="1" />
<text x="579.4" y="471.7" font-size="6.6" text-anchor="middle" fill="#1f948a" opacity="0.85">a</text>
<circle cx="608" cy="476.2" r="1.95" fill="#a8d23c" stroke="none" stroke-width="1" />
<text x="608" y="471.7" font-size="6.6" text-anchor="middle" fill="#a8d23c" opacity="0.85">a</text>
<circle cx="378.9" cy="498.4" r="1.9" fill="#440154" stroke="none" stroke-width="1" />
<circle cx="407.8" cy="498.4" r="2.2" fill="#2b6f92" stroke="none" stroke-width="1" />
<text x="407.8" y="493.9" font-size="6.6" text-anchor="middle" fill="#2b6f92" opacity="0.85">bc</text>
<circle cx="436.4" cy="498.4" r="2.2" fill="#2b6f92" stroke="none" stroke-width="1" />
<text x="436.4" y="493.9" font-size="6.6" text-anchor="middle" fill="#2b6f92" opacity="0.85">b</text>
<circle cx="465.1" cy="498.4" r="1.5" fill="#1f948a" stroke="none" stroke-width="1" />
<text x="465.1" y="493.9" font-size="6.6" text-anchor="middle" fill="#1f948a" opacity="0.85">d</text>
<circle cx="493.7" cy="498.4" r="1.6" fill="#1f948a" stroke="none" stroke-width="1" />
<text x="493.7" y="493.9" font-size="6.6" text-anchor="middle" fill="#1f948a" opacity="0.85">e</text>
<circle cx="522.2" cy="498.4" r="1.95" fill="#1f948a" stroke="none" stroke-width="1" />
<text x="522.2" y="493.9" font-size="6.6" text-anchor="middle" fill="#1f948a" opacity="0.85">a</text>
<circle cx="550.8" cy="498.4" r="1.95" fill="#1f948a" stroke="none" stroke-width="1" />
<text x="550.8" y="493.9" font-size="6.6" text-anchor="middle" fill="#1f948a" opacity="0.85">a</text>
<circle cx="579.4" cy="498.4" r="1.95" fill="#1f948a" stroke="none" stroke-width="1" />
<text x="579.4" y="493.9" font-size="6.6" text-anchor="middle" fill="#1f948a" opacity="0.85">a</text>
<circle cx="608" cy="498.4" r="1.95" fill="#a8d23c" stroke="none" stroke-width="1" />
<text x="608" y="493.9" font-size="6.6" text-anchor="middle" fill="#a8d23c" opacity="0.85">a</text>
<circle cx="378.9" cy="520.8" r="1.9" fill="#440154" stroke="none" stroke-width="1" />
<circle cx="407.8" cy="520.8" r="2" fill="#2b6f92" stroke="none" stroke-width="1" />
<text x="407.8" y="516.3" font-size="6.6" text-anchor="middle" fill="#2b6f92" opacity="0.85">c</text>
<circle cx="436.4" cy="520.8" r="2" fill="#2b6f92" stroke="none" stroke-width="1" />
<text x="436.4" y="516.3" font-size="6.6" text-anchor="middle" fill="#2b6f92" opacity="0.85">b</text>
<circle cx="465.1" cy="520.8" r="2" fill="#1f948a" stroke="none" stroke-width="1" />
<text x="465.1" y="516.3" font-size="6.6" text-anchor="middle" fill="#1f948a" opacity="0.85">d</text>
<circle cx="493.7" cy="520.8" r="2" fill="#1f948a" stroke="none" stroke-width="1" />
<text x="493.7" y="516.3" font-size="6.6" text-anchor="middle" fill="#1f948a" opacity="0.85">de</text>
<circle cx="522.2" cy="520.8" r="1.95" fill="#1f948a" stroke="none" stroke-width="1" />
<text x="522.2" y="516.3" font-size="6.6" text-anchor="middle" fill="#1f948a" opacity="0.85">a</text>
<circle cx="550.8" cy="520.8" r="1.95" fill="#1f948a" stroke="none" stroke-width="1" />
<text x="550.8" y="516.3" font-size="6.6" text-anchor="middle" fill="#1f948a" opacity="0.85">a</text>
<circle cx="579.4" cy="520.8" r="1.95" fill="#1f948a" stroke="none" stroke-width="1" />
<text x="579.4" y="516.3" font-size="6.6" text-anchor="middle" fill="#1f948a" opacity="0.85">a</text>
<circle cx="608" cy="520.8" r="1.95" fill="#a8d23c" stroke="none" stroke-width="1" />
<text x="608" y="516.3" font-size="6.6" text-anchor="middle" fill="#a8d23c" opacity="0.85">a</text>
<rect x="362.5" y="351.5" width="262.4" height="182.5" fill="none" stroke="#555" stroke-width="1.1" />
<text x="356.4" y="368.24" font-size="10.4" text-anchor="end" fill="#262626" stroke="#262626" stroke-width="0.22" textLength="21.2" lengthAdjust="spacingAndGlyphs" >L148</text>
<text x="356.4" y="390.54" font-size="10.4" text-anchor="end" fill="#262626" stroke="#262626" stroke-width="0.22" font-style="italic" textLength="43.7" lengthAdjust="spacingAndGlyphs" >gspE::Tn5</text>
<text x="356.4" y="412.94" font-size="10.4" text-anchor="end" fill="#262626" stroke="#262626" stroke-width="0.22" font-style="italic" textLength="42.7" lengthAdjust="spacingAndGlyphs" >alaA::Tn5</text>
<text x="356.4" y="435.14" font-size="10.4" text-anchor="end" fill="#262626" stroke="#262626" stroke-width="0.22" font-style="italic" textLength="39.9" lengthAdjust="spacingAndGlyphs" >rpfF::Tn5</text>
<text x="356.4" y="457.64" font-size="10.4" text-anchor="end" fill="#262626" stroke="#262626" stroke-width="0.22" font-style="italic" textLength="15.1" lengthAdjust="spacingAndGlyphs" >Xcc</text>
<text x="356.4" y="479.84" font-size="10.4" text-anchor="end" fill="#262626" stroke="#262626" stroke-width="0.22" font-style="italic" textLength="17" lengthAdjust="spacingAndGlyphs" >Xoo</text>
<text x="356.4" y="502.04" font-size="10.4" text-anchor="end" fill="#262626" stroke="#262626" stroke-width="0.22" font-style="italic" textLength="14.7" lengthAdjust="spacingAndGlyphs" >Pto</text>
<text x="356.4" y="524.44" font-size="10.4" text-anchor="end" fill="#262626" stroke="#262626" stroke-width="0.22" font-style="italic" textLength="15.1" lengthAdjust="spacingAndGlyphs" >Eco</text>
<text x="0" y="0" font-size="10.4" fill="#262626" stroke="#262626" stroke-width="0.22" text-anchor="end" textLength="22.5" lengthAdjust="spacingAndGlyphs" transform="translate(382.5 540.7) rotate(-90)">none</text>
<text x="0" y="0" font-size="10.4" fill="#262626" stroke="#262626" stroke-width="0.22" text-anchor="end" textLength="30.7" lengthAdjust="spacingAndGlyphs" transform="translate(411.4 540.7) rotate(-90)">gelatin</text>
<text x="0" y="0" font-size="10.4" fill="#262626" stroke="#262626" stroke-width="0.22" text-anchor="end" textLength="19" lengthAdjust="spacingAndGlyphs" transform="translate(440 540.7) rotate(-90)">milk</text>
<text x="0" y="0" font-size="10.4" fill="#262626" stroke="#262626" stroke-width="0.22" text-anchor="end" textLength="27.8" lengthAdjust="spacingAndGlyphs" transform="translate(468.7 540.7) rotate(-90)">pectin</text>
<text x="0" y="0" font-size="10.4" fill="#262626" stroke="#262626" stroke-width="0.22" text-anchor="end" textLength="70.1" lengthAdjust="spacingAndGlyphs" transform="translate(488.4 540.7) rotate(-90)">carboxymethyl-</text>
<text x="0" y="0" font-size="10.4" fill="#262626" stroke="#262626" stroke-width="0.22" text-anchor="end" textLength="39.4" lengthAdjust="spacingAndGlyphs" transform="translate(502.3 540.7) rotate(-90)">cellulose</text>
<text x="0" y="0" font-size="10.4" fill="#262626" stroke="#262626" stroke-width="0.22" text-anchor="end" textLength="48.8" lengthAdjust="spacingAndGlyphs" transform="translate(525.8 540.7) rotate(-90)">α-cellulose</text>
<text x="0" y="0" font-size="10.4" fill="#262626" stroke="#262626" stroke-width="0.22" text-anchor="end" textLength="23.3" lengthAdjust="spacingAndGlyphs" transform="translate(554.4 540.7) rotate(-90)">xylan</text>
<text x="0" y="0" font-size="10.4" fill="#262626" stroke="#262626" stroke-width="0.22" text-anchor="end" textLength="26.9" lengthAdjust="spacingAndGlyphs" transform="translate(583 540.7) rotate(-90)">starch</text>
<text x="0" y="0" font-size="10.4" fill="#262626" stroke="#262626" stroke-width="0.22" text-anchor="end" textLength="41" lengthAdjust="spacingAndGlyphs" transform="translate(612 540.7) rotate(-90)">Tween20</text>
<text x="657.3" y="369.85" font-size="10.4" text-anchor="middle" fill="#262626" stroke="#262626" stroke-width="0.22" textLength="40.8" lengthAdjust="spacingAndGlyphs" >enzymatic</text>
<text x="657.1" y="380.75" font-size="10.4" text-anchor="middle" fill="#262626" stroke="#262626" stroke-width="0.22" textLength="21.6" lengthAdjust="spacingAndGlyphs" >index</text>
<circle cx="654.5" cy="391.3" r="3" fill="#111" stroke="none" stroke-width="1" />
<text x="662.6" y="394.94" font-size="10.4" text-anchor="start" fill="#262626" stroke="#262626" stroke-width="0.22" textLength="5.67" lengthAdjust="spacingAndGlyphs" >5</text>
<circle cx="654.5" cy="403.4" r="4" fill="#111" stroke="none" stroke-width="1" />
<text x="662.6" y="407.04" font-size="10.4" text-anchor="start" fill="#262626" stroke="#262626" stroke-width="0.22" textLength="11.34" lengthAdjust="spacingAndGlyphs" >10</text>
<circle cx="654.5" cy="415.1" r="4.6" fill="#111" stroke="none" stroke-width="1" />
<text x="662.6" y="418.74" font-size="10.4" text-anchor="start" fill="#262626" stroke="#262626" stroke-width="0.22" textLength="11.34" lengthAdjust="spacingAndGlyphs" >15</text>
<circle cx="654.5" cy="426.6" r="4.9" fill="#111" stroke="none" stroke-width="1" />
<text x="662.6" y="430.24" font-size="10.4" text-anchor="start" fill="#262626" stroke="#262626" stroke-width="0.22" textLength="11.34" lengthAdjust="spacingAndGlyphs" >20</text>
<text x="656.7" y="458.05" font-size="10.4" text-anchor="middle" fill="#262626" stroke="#262626" stroke-width="0.22" textLength="43.1" lengthAdjust="spacingAndGlyphs" >compound</text>
<text x="656.7" y="469.85" font-size="10.4" text-anchor="middle" fill="#262626" stroke="#262626" stroke-width="0.22" textLength="23.5" lengthAdjust="spacingAndGlyphs" >group</text>
<text x="658.3" y="483.93" font-size="9.2" text-anchor="middle" fill="#440154" stroke="#440154" stroke-width="0.22" textLength="17.4" lengthAdjust="spacingAndGlyphs" >none</text>
<text x="659.4" y="493.13" font-size="9.2" text-anchor="middle" fill="#2b6f92" stroke="#2b6f92" stroke-width="0.22" textLength="25.6" lengthAdjust="spacingAndGlyphs" >protein</text>
<text x="634.5" y="502.9" font-size="9.2" text-anchor="start" fill="#1f948a" stroke="#1f948a" stroke-width="0.22" textLength="51" lengthAdjust="spacingAndGlyphs" >carbohydrates</text>
<text x="658.4" y="512.03" font-size="9.2" text-anchor="middle" fill="#a8d23c" stroke="#a8d23c" stroke-width="0.22" textLength="17.6" lengthAdjust="spacingAndGlyphs" >lipids</text>
</svg></body></html>
